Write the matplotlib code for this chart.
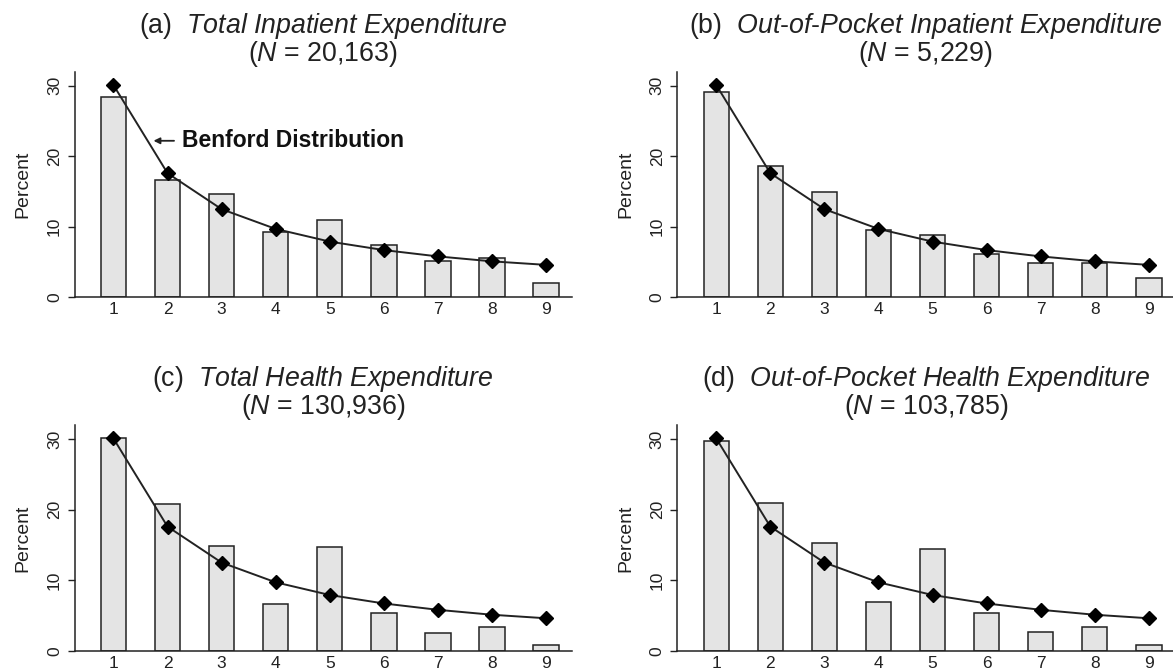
import matplotlib
matplotlib.use("Agg")
import matplotlib.pyplot as plt
import numpy as np

plt.rcParams['font.family'] = ['Liberation Sans', 'DejaVu Sans']
plt.rcParams['mathtext.fontset'] = 'custom'
plt.rcParams['mathtext.rm'] = 'Liberation Sans'
plt.rcParams['mathtext.it'] = 'Liberation Sans:italic'
plt.rcParams['mathtext.bf'] = 'Liberation Sans:bold'

digits = [1, 2, 3, 4, 5, 6, 7, 8, 9]

# Benford's law: percent share of each leading digit
benford = [30.1, 17.6, 12.5, 9.7, 7.9, 6.7, 5.8, 5.1, 4.6]

total_inpatient = [28.4, 16.6, 14.6, 9.3, 10.9, 7.4, 5.2, 5.6, 2.0]
oop_inpatient = [29.1, 18.6, 14.9, 9.6, 8.9, 6.1, 4.9, 4.9, 2.7]
total_health = [30.1, 20.8, 14.9, 6.6, 14.7, 5.4, 2.5, 3.3, 0.8]
oop_health = [29.7, 20.9, 15.3, 6.9, 14.4, 5.4, 2.7, 3.3, 0.8]

panels = [
    ("(a)", r"$\mathit{Total\ Inpatient\ Expenditure}$", "20,163", total_inpatient),
    ("(b)", r"$\mathit{Out}$-$\mathit{of}$-$\mathit{Pocket\ Inpatient\ Expenditure}$", "5,229", oop_inpatient),
    ("(c)", r"$\mathit{Total\ Health\ Expenditure}$", "130,936", total_health),
    ("(d)", r"$\mathit{Out}$-$\mathit{of}$-$\mathit{Pocket\ Health\ Expenditure}$", "103,785", oop_health),
]

fig = plt.figure(figsize=(11.73, 6.7), dpi=100)

W, H = 1173, 670
positions = [(74.5, 297.3), (677.3, 297.3), (74.5, 650.7), (677.3, 650.7)]
aw, ah = 497.2, 225.6
ink = '#222222'

for (letter, name, n, pct), (x0, y0) in zip(panels, positions):
    ax = fig.add_axes([x0 / W, (H - y0) / H, aw / W, ah / H])
    ax.bar(digits, pct, width=0.47, color='#e4e4e4', edgecolor=ink,
           linewidth=1.1, zorder=2)
    ax.plot(digits, benford, color=ink, linewidth=1.4, marker='D',
            markersize=7.5, markerfacecolor='black', markeredgecolor='black',
            zorder=3)

    ax.set_xlim(0.279, 9.475)
    ax.set_ylim(0, 32)
    for s in ['top', 'right']:
        ax.spines[s].set_visible(False)
    for s in ['left', 'bottom']:
        ax.spines[s].set_linewidth(1.1)
        ax.spines[s].set_color(ink)

    ax.set_xticks(digits)
    ax.set_xticklabels([str(d) for d in digits])
    ax.tick_params(axis='x', length=0, pad=3.5, labelsize=12.5, colors=ink)
    ax.set_yticks([0, 10, 20, 30])
    ax.tick_params(axis='y', length=5, width=1.0, pad=4, labelsize=12.5,
                   colors=ink)
    for lab in ax.get_yticklabels():
        lab.set_rotation(90)
        lab.set_va('center')
    ax.set_ylabel('Percent', fontsize=14, labelpad=11, color=ink)

    ax.text(0.5, 1.203, letter + "  " + name, transform=ax.transAxes,
            ha='center', va='center', fontsize=19.3, color=ink)
    ax.text(0.5, 1.08, "($\\mathit{N}$ = " + n + ")", transform=ax.transAxes,
            ha='center', va='center', fontsize=19.3, color=ink)

    if letter == "(a)":
        ax.annotate("", xy=(1.74, 22.2), xytext=(2.12, 22.2),
                    arrowprops=dict(arrowstyle='-|>', color=ink, lw=1.3,
                                    mutation_scale=9, shrinkA=0, shrinkB=0))
        ax.text(2.26, 22.2, "Benford Distribution", fontsize=16.5,
                fontweight='bold', ha='left', va='center', color='#111111')

fig.savefig("out.png", dpi=100)
